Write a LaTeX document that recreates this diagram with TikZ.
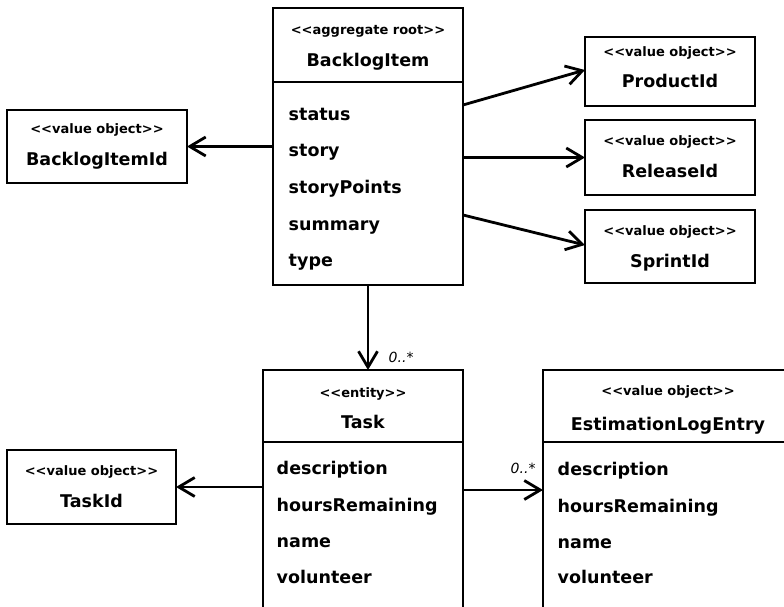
\documentclass[tikz,border=0pt]{standalone}
\usepackage{fontspec}
\setmainfont{DejaVu Sans}[Ligatures=TeXOff]
\usetikzlibrary{arrows.meta,positioning}

\begin{document}
\begin{tikzpicture}[x=1pt, y=-1pt, line width=2.8pt,
  box/.style={draw, inner sep=0pt, outer sep=0pt},
  stereo/.style={font=\bfseries\fontsize{13}{15}\selectfont, anchor=base},
  cname/.style={font=\bfseries\fontsize{17.5}{20}\selectfont, anchor=base},
  attr/.style={font=\bfseries\fontsize{17.5}{20}\selectfont, anchor=base west},
  mult/.style={font=\itshape\fontsize{14}{16}\selectfont, anchor=base west},
  assoc/.style={-{Straight Barb[length=16pt, width=19pt]}}]
\useasboundingbox (0,0) rectangle (784,607);
\clip (0,0) rectangle (784,607);

% aggregate root
\node[box, minimum width=190, minimum height=74] (bi-h) at (368,45) {};
\node[box, minimum width=190, minimum height=203, below=0pt of bi-h] (bi-b) {};
\node[stereo] (bi-st) at (368,35) {<<aggregate root>>};
\node[cname] (bi-n) at (368,67) {BacklogItem};
\node[attr] (bi-a1) at (284,121) {status};
\node[attr] (bi-a2) at (284,157) {story};
\node[attr] (bi-a3) at (284,193.5) {storyPoints};
\node[attr] (bi-a4) at (284,230) {summary};
\node[attr] (bi-a5) at (284,266) {type};

% value objects of the backlog item
\node[box, minimum width=180, minimum height=73] (bid) at (97,146.5) {};
\node[stereo] (bid-st) at (97,133) {<<value object>>};
\node[cname] (bid-n) at (97,165) {BacklogItemId};
\node[box, minimum width=170, minimum height=69] (pid) at (670,71.5) {};
\node[stereo] (pid-st) at (670,57) {<<value object>>};
\node[cname] (pid-n) at (670,88) {ProductId};
\node[box, minimum width=170, minimum height=75] (rid) at (670,157.5) {};
\node[stereo] (rid-st) at (670,146) {<<value object>>};
\node[cname] (rid-n) at (670,177) {ReleaseId};
\node[box, minimum width=170, minimum height=73] (sid) at (670,246.5) {};
\node[stereo] (sid-st) at (670,235) {<<value object>>};
\node[cname] (sid-n) at (670,267) {SprintId};

% entity
\node[box, minimum width=200, minimum height=72] (task-h) at (363,406) {};
\node[box, minimum width=200, minimum height=200, below=0pt of task-h] (task-b) {};
\node[stereo] (task-st) at (363,397) {<<entity>>};
\node[cname] (task-n) at (363,428) {Task};
\node[attr] (task-a1) at (272,474) {description};
\node[attr] (task-a2) at (272,511) {hoursRemaining};
\node[attr] (task-a3) at (272,547) {name};
\node[attr] (task-a4) at (272,583) {volunteer};

\node[box, minimum width=169, minimum height=74] (tid) at (91.5,487) {};
\node[stereo] (tid-st) at (91.5,475) {<<value object>>};
\node[cname] (tid-n) at (91.5,507) {TaskId};

\node[box, minimum width=250, minimum height=72] (ele-h) at (668,406) {};
\node[box, minimum width=250, minimum height=200, below=0pt of ele-h] (ele-b) {};
\node[stereo] (ele-st) at (668,395) {<<value object>>};
\node[cname] (ele-n) at (668,430) {EstimationLogEntry};
\node[attr] (ele-a1) at (553,475) {description};
\node[attr] (ele-a2) at (553,512) {hoursRemaining};
\node[attr] (ele-a3) at (553,548) {name};
\node[attr] (ele-a4) at (553,583) {volunteer};

% associations
\coordinate (p-from) at (463,105);
\coordinate (s-from) at (463,215);
\coordinate (e-at) at (463,490);
\draw[assoc] (bi-b.west |- bid.east) -- (bid.east);
\draw[assoc] (p-from) -- ([yshift=1.5pt]pid.west);
\draw[assoc] (bi-b.east |- rid.west) -- (rid.west);
\draw[assoc] (s-from) -- ([yshift=1.5pt]sid.west);
\draw[assoc] (bi-b.south) -- (bi-b.south |- task-h.north);
\draw[assoc] (task-b.west |- tid.east) -- (tid.east);
\draw[assoc] (e-at) -- (ele-b.west |- e-at);
\node[mult] (m-task) at (384,362) {0..*};
\node[mult] (m-ele) at (506,473) {0..*};
\end{tikzpicture}
\end{document}
